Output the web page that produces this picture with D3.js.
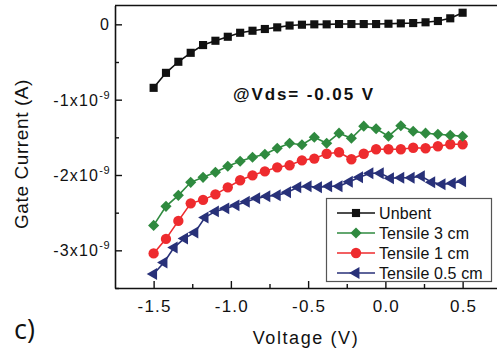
<!DOCTYPE html>
<html>
<head>
<meta charset="utf-8">
<script src="https://cdn.jsdelivr.net/npm/d3@7"></script>
<style>
  body { margin: 0; background: #fff; }
  text { font-family: Arial, "Liberation Sans", sans-serif; fill: #111; }
</style>
</head>
<body>
<svg id="chart" width="497" height="356"></svg>
<script>
// Gate current vs voltage, values in units of 1e-9 A
const voltage = [-1.5, -1.42, -1.34, -1.26, -1.18, -1.1, -1.02, -0.94, -0.86, -0.78, -0.7, -0.62, -0.54,
  -0.46, -0.38, -0.3, -0.22, -0.14, -0.06, 0.02, 0.1, 0.18, 0.26, 0.34, 0.42, 0.5]

const unbent = [-0.843, -0.644, -0.497, -0.378, -0.275, -0.218, -0.165, -0.112, -0.085, -0.062, -0.04, -0.016, -0.005,
  0, 0, 0.004, 0.004, 0.004, 0.004, 0.008, 0.013, 0.017, 0.027, 0.044, 0.08, 0.154]

const tensile3 = [-2.669, -2.416, -2.27, -2.097, -2.031, -1.964, -1.884, -1.818, -1.765, -1.725, -1.645, -1.578, -1.598,
  -1.499, -1.578, -1.445, -1.512, -1.352, -1.386, -1.485, -1.346, -1.419, -1.445, -1.459, -1.472, -1.485]

const tensile1 = [-3.041, -2.848, -2.609, -2.376, -2.33, -2.257, -2.164, -2.07, -2.004, -1.951, -1.898, -1.871, -1.805,
  -1.782, -1.718, -1.698, -1.791, -1.718, -1.658, -1.658, -1.658, -1.638, -1.645, -1.618, -1.592, -1.592]

// the 0.5 cm sweep was sampled more densely
const voltageFine = [-1.5, -1.433, -1.367, -1.3, -1.233, -1.167, -1.1, -1.033, -0.967, -0.9, -0.833, -0.767, -0.7,
  -0.633, -0.567, -0.5, -0.433, -0.367, -0.3, -0.233, -0.167, -0.1, -0.033, 0.033, 0.1, 0.167, 0.233, 0.3, 0.367,
  0.433, 0.5]

const tensile05 = [-3.314, -3.161, -2.961, -2.842, -2.762, -2.563, -2.483, -2.443, -2.403, -2.356, -2.31, -2.283, -2.27,
  -2.23, -2.164, -2.15, -2.164, -2.15, -2.15, -2.09, -2.031, -1.977, -1.977, -2.044, -2.037, -2.037, -2.017, -2.097,
  -2.124, -2.11, -2.084]

const xTicks = [-1.5, -1.0, -0.5, 0.0, 0.5]
const xTickLabels = ["-1.5", "-1.0", "-0.5", "0.0", "0.5"]
const yTicks = [0, -1, -2, -3]

const series = [
  { name: "Unbent", x: voltage, y: unbent, color: "#111111", shape: "square" },
  { name: "Tensile 3 cm", x: voltage, y: tensile3, color: "#2f8a3f", shape: "diamond" },
  { name: "Tensile 1 cm", x: voltage, y: tensile1, color: "#ee2b2e", shape: "circle" },
  { name: "Tensile 0.5 cm", x: voltageFine, y: tensile05, color: "#283179", shape: "triangle" }
]

const svg = d3.select("#chart")

const plotLeft = 115
const plotTop = 5.5
const plotBottom = 288

const x = d3.scaleLinear().domain([-1.75, 0.75]).range([plotLeft, plotLeft + 2.5 * 154.5])
const y = d3.scaleLinear().domain([-3.5, 0.25]).range([plotBottom, plotTop])

function symbolPath(shape) {
  if (shape === "square") return d3.symbol(d3.symbolSquare, 66)()
  if (shape === "diamond") return d3.symbol(d3.symbolSquare, 62)()
  if (shape === "circle") return d3.symbol(d3.symbolCircle, 84)()
  return d3.symbol(d3.symbolTriangle, 62)()
}
function symbolRotate(shape) {
  if (shape === "diamond") return 45
  if (shape === "triangle") return -90
  return 0
}

// frame: top border
svg.append("line")
  .attr("x1", plotLeft).attr("x2", 497)
  .attr("y1", plotTop).attr("y2", plotTop)
  .attr("stroke", "#111").attr("stroke-width", 1.6)

// axes with inward ticks
const xAxis = svg.append("g")
  .attr("transform", `translate(0,${plotBottom})`)
  .call(d3.axisBottom(x).tickValues(d3.range(-1.5, 0.76, 0.25)).tickSizeInner(-4).tickSizeOuter(0).tickFormat(""))
xAxis.selectAll(".tick line")
  .attr("y2", d => Math.abs(d * 2 - Math.round(d * 2)) < 1e-6 ? -7 : -4)

const yAxis = svg.append("g")
  .attr("transform", `translate(${plotLeft},0)`)
  .call(d3.axisLeft(y).tickValues(d3.range(-3.5, 0.01, 0.5)).tickSizeInner(-4).tickSizeOuter(0).tickFormat(""))
yAxis.selectAll(".tick line")
  .attr("x2", d => Math.abs(d - Math.round(d)) < 1e-6 ? 7 : 4)

svg.selectAll(".domain").attr("stroke", "#111").attr("stroke-width", 1.6)
svg.selectAll(".tick line").attr("stroke", "#111").attr("stroke-width", 1.4)

// x tick labels
svg.selectAll(".x-label")
  .data(xTicks)
  .enter()
  .append("text")
  .attr("class", "x-label")
  .attr("x", d => x(d) + 1)
  .attr("y", 312)
  .attr("text-anchor", "middle")
  .style("font-size", "17px")
  .style("letter-spacing", "1.2px")
  .text((d, i) => xTickLabels[i])

// y tick labels with superscript exponent
const yLabels = svg.selectAll(".y-label")
  .data(yTicks)
  .enter()
  .append("text")
  .attr("class", "y-label")
  .attr("x", 110)
  .attr("y", d => y(d) + 6)
  .attr("text-anchor", "end")
  .style("font-size", "16px")
  .style("letter-spacing", "1.2px")

yLabels.filter(d => d === 0).text("0")
yLabels.filter(d => d !== 0).each(function(d) {
  const t = d3.select(this)
  t.append("tspan").text(`${d}x10`)
  t.append("tspan").attr("dy", -7).style("font-size", "11px").style("letter-spacing", "0.5px").text("-9")
})

// axis titles
svg.append("text")
  .attr("x", 306)
  .attr("y", 344)
  .attr("text-anchor", "middle")
  .style("font-size", "18px")
  .style("letter-spacing", "1.6px")
  .text("Voltage (V)")

svg.append("text")
  .attr("transform", "translate(28,154) rotate(-90)")
  .attr("text-anchor", "middle")
  .style("font-size", "19px")
  .style("letter-spacing", "0.6px")
  .text("Gate Current (A)")

svg.append("text")
  .attr("x", 14)
  .attr("y", 339)
  .style("font-family", "'Open Sans', sans-serif")
  .style("font-size", "27px")
  .text("c)")

svg.append("text")
  .attr("x", 233)
  .attr("y", 100)
  .style("font-size", "17px")
  .style("font-weight", "bold")
  .style("letter-spacing", "1.9px")
  .text("@Vds= -0.05 V")

// data lines and markers
const plot = svg.append("g")
series.slice().reverse().forEach(s => {
  const pts = s.x.map((v, i) => [v, s.y[i]])
  plot.append("path")
    .datum(pts)
    .attr("fill", "none")
    .attr("stroke", s.color)
    .attr("stroke-width", 1.6)
    .attr("d", d3.line().x(d => x(d[0])).y(d => y(d[1])))
  plot.selectAll(null)
    .data(pts)
    .enter()
    .append("path")
    .attr("transform", d => `translate(${x(d[0])},${y(d[1])}) rotate(${symbolRotate(s.shape)})`)
    .attr("d", symbolPath(s.shape))
    .attr("fill", s.color)
})

// legend
const legend = svg.append("g")
legend.append("rect")
  .attr("x", 326.5).attr("y", 198.5)
  .attr("width", 165).attr("height", 83)
  .attr("fill", "#fff")
  .attr("stroke", "#555").attr("stroke-width", 1.2)

series.forEach((s, i) => {
  const ly = 213 + i * 20
  legend.append("line")
    .attr("x1", 337).attr("x2", 375)
    .attr("y1", ly).attr("y2", ly)
    .attr("stroke", s.color).attr("stroke-width", 1.6)
  legend.append("path")
    .attr("transform", `translate(356,${ly}) rotate(${symbolRotate(s.shape)})`)
    .attr("d", symbolPath(s.shape))
    .attr("fill", s.color)
  legend.append("text")
    .attr("x", 379)
    .attr("y", ly + 5.5)
    .style("font-size", "16px")
    .style("letter-spacing", "0.1px")
    .text(s.name)
})
</script>
</body>
</html>
